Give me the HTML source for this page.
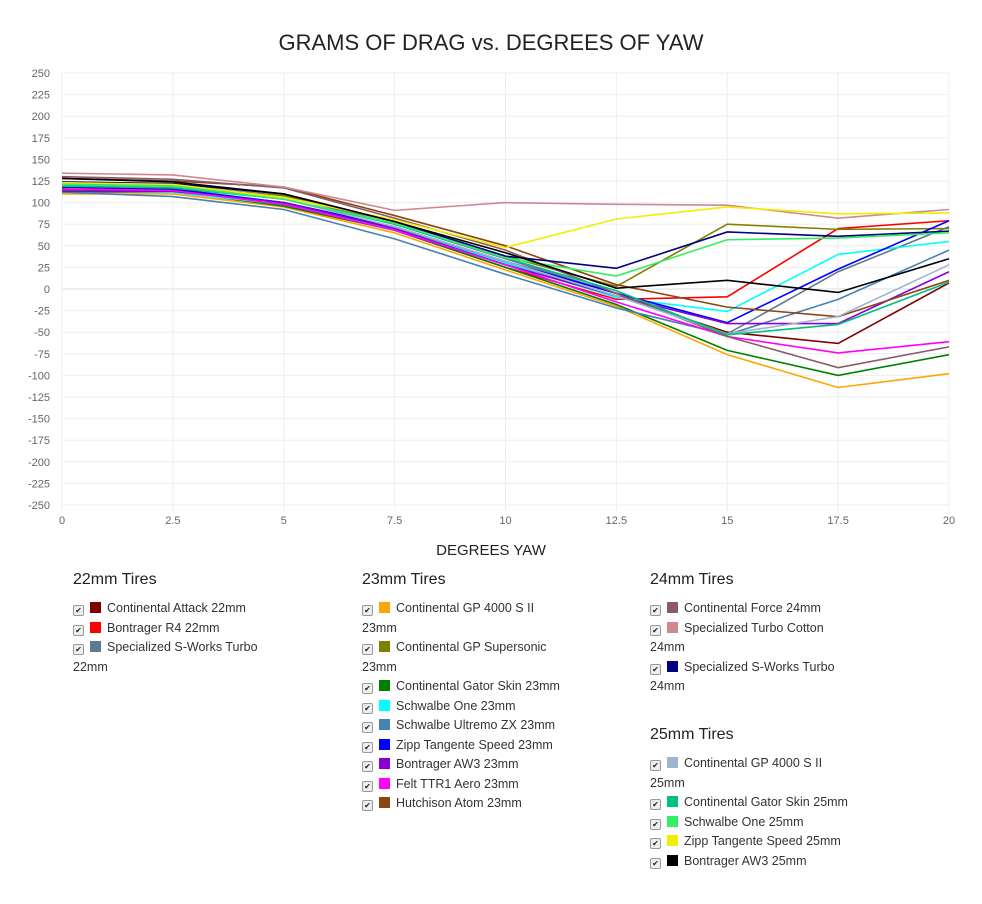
<!DOCTYPE html>
<html><head><meta charset="utf-8"><style>
body{margin:0;background:#fff;font-family:"Liberation Sans",sans-serif;color:#333;}
#wrap{position:relative;width:982px;height:904px;overflow:hidden;}
.title{position:absolute;left:0;width:982px;top:30px;text-align:center;font-size:22px;color:#222;}
.xt{position:absolute;left:0;width:982px;top:542px;text-align:center;font-size:15px;color:#222;}
.col{position:absolute;font-size:12.5px;line-height:19.5px;color:#333;}
.col h3{margin:0 0 9px 0;font-weight:normal;font-size:16px;color:#222;line-height:20px;}
.it{white-space:nowrap;}
.cb{display:inline-block;width:9px;height:9px;border:1px solid #999;border-radius:2px;background:#eee;font-size:8px;line-height:9px;text-align:center;vertical-align:-1px;margin-right:6px;color:#222;}
.sw{display:inline-block;width:11px;height:11px;vertical-align:-1px;margin-right:6px;}
</style></head><body><div id="wrap">
<div class="title">GRAMS OF DRAG vs. DEGREES OF YAW</div>
<svg id="chart" width="982" height="540" style="position:absolute;left:0;top:0"></svg>
<div class="xt">DEGREES YAW</div>
<div id="legend"></div>
</div>
<script>
const xValues=[0,2.5,5,7.5,10,12.5,15,17.5,20];
const xTicks=["0","2.5","5","7.5","10","12.5","15","17.5","20"];
const yTicks=[250,225,200,175,150,125,100,75,50,25,0,-25,-50,-75,-100,-125,-150,-175,-200,-225,-250];
const seriesNames=["Continental Attack 22mm","Bontrager R4 22mm","Specialized S-Works Turbo 22mm","Continental GP 4000 S II 23mm","Continental GP Supersonic 23mm","Continental Gator Skin 23mm","Schwalbe One 23mm","Schwalbe Ultremo ZX 23mm","Zipp Tangente Speed 23mm","Bontrager AW3 23mm","Felt TTR1 Aero 23mm","Hutchison Atom 23mm","Continental Force 24mm","Specialized Turbo Cotton 24mm","Specialized S-Works Turbo 24mm","Continental GP 4000 S II 25mm","Continental Gator Skin 25mm","Schwalbe One 25mm","Zipp Tangente Speed 25mm","Bontrager AW3 25mm"];
const seriesColors=["#800000","#ff0000","#5f7a90","#ffa500","#808000","#008000","#00ffff","#4682b4","#0000ff","#8a00d4","#ff00ff","#8b4513","#8b5a68","#d08890","#000080","#a0b4d0","#00c080","#33ee66","#eeee00","#000000"];
const s0=[118,115,100,72,30,-8,-50,-63,7];
const s1=[112,112,98,68,25,-12,-9,70,79];
const s2=[122,120,108,75,35,-5,-52,20,72];
const s3=[110,110,95,65,22,-20,-76,-114,-98];
const s4=[120,118,108,78,38,3,75,69,70];
const s5=[115,113,96,68,25,-18,-71,-100,-76];
const s6=[113,112,98,70,30,-10,-26,40,55];
const s7=[112,107,92,58,17,-22,-53,-12,45];
const s8=[118,116,100,72,32,-5,-39,23,79];
const s9=[113,113,100,70,28,-8,-40,-40,20];
const s10=[116,114,98,68,28,-15,-55,-74,-61];
const s11=[128,125,118,85,50,5,-21,-32,10];
const s12=[130,127,117,82,45,-5,-55,-91,-67];
const s13=[134,132,118,91,100,98,97,82,92];
const s14=[124,122,110,78,38,24,66,61,67];
const s15=[120,118,104,72,32,-8,-52,-32,28];
const s16=[119,117,104,75,36,-2,-53,-41,8];
const s17=[121,119,104,76,36,15,57,59,65];
const s18=[123,121,106,80,48,81,95,87,88];
const s19=[128,124,110,78,42,1,10,-4,35];
const seriesData=[s0,s1,s2,s3,s4,s5,s6,s7,s8,s9,s10,s11,s12,s13,s14,s15,s16,s17,s18,s19];
const X0=62,X1=949,Y0=73,Y1=505;
const xs=v=>X0+(v-0)/20*(X1-X0);
const ys=v=>Y0+(250-v)/500*(Y1-Y0);
const NS="http://www.w3.org/2000/svg";
const svg=document.getElementById('chart');
function mk(t,a){const e=document.createElementNS(NS,t);for(const k in a)e.setAttribute(k,a[k]);return e;}
yTicks.forEach(t=>{
  const l=mk('line',{x1:X0,x2:X1,y1:ys(t),y2:ys(t),stroke:t===0?'#ddd':'#eee','stroke-width':1});
  
  
  svg.appendChild(l);
  const tx=mk('text',{x:X0-12,y:ys(t)+4,'text-anchor':'end','font-size':11,fill:'#666','font-family':'Liberation Sans, sans-serif'});
  tx.textContent=t;
  
  
  svg.appendChild(tx);
});
xValues.forEach((v,i)=>{
  const l=mk('line',{x1:xs(v),x2:xs(v),y1:Y0,y2:Y1+6,stroke:'#eee','stroke-width':1});
  
  
  svg.appendChild(l);
  const tx=mk('text',{x:xs(v),y:Y1+19,'text-anchor':'middle','font-size':11,fill:'#666','font-family':'Liberation Sans, sans-serif'});
  tx.textContent=xTicks[i];
  
  
  svg.appendChild(tx);
});
seriesData.forEach((d,i)=>{
  const p=mk('polyline',{points:d.map((v,j)=>xs(xValues[j])+','+ys(v)).join(' '),fill:'none',stroke:seriesColors[i],'stroke-width':1.6});
  
  
  svg.appendChild(p);
});
const groups=[
 {title:"22mm Tires",x:73,y:570,items:[[0,"Continental Attack 22mm"],[1,"Bontrager R4 22mm"],[2,"Specialized S-Works Turbo","22mm"]]},
 {title:"23mm Tires",x:362,y:570,items:[[3,"Continental GP 4000 S II","23mm"],[4,"Continental GP Supersonic","23mm"],[5,"Continental Gator Skin 23mm"],[6,"Schwalbe One 23mm"],[7,"Schwalbe Ultremo ZX 23mm"],[8,"Zipp Tangente Speed 23mm"],[9,"Bontrager AW3 23mm"],[10,"Felt TTR1 Aero 23mm"],[11,"Hutchison Atom 23mm"]]},
 {title:"24mm Tires",x:650,y:570,items:[[12,"Continental Force 24mm"],[13,"Specialized Turbo Cotton","24mm"],[14,"Specialized S-Works Turbo","24mm"]]},
 {title:"25mm Tires",x:650,y:725,items:[[15,"Continental GP 4000 S II","25mm"],[16,"Continental Gator Skin 25mm"],[17,"Schwalbe One 25mm"],[18,"Zipp Tangente Speed 25mm"],[19,"Bontrager AW3 25mm"]]}
];
const leg=document.getElementById('legend');
groups.forEach(g=>{
  const c=document.createElement('div');c.className='col';c.style.left=g.x+'px';c.style.top=g.y+'px';
  
  
  const h=document.createElement('h3');h.textContent=g.title;
  
  
  c.appendChild(h);
  g.items.forEach(it=>{
    const d=document.createElement('div');d.className='it';
    
    
    d.innerHTML='<span class="cb">✔</span><span class="sw" style="background:'+seriesColors[it[0]]+'"></span>'+it[1]+(it[2]?'<br>'+it[2]:'');
    c.appendChild(d);
  });
  leg.appendChild(c);
});
</script></body></html>
